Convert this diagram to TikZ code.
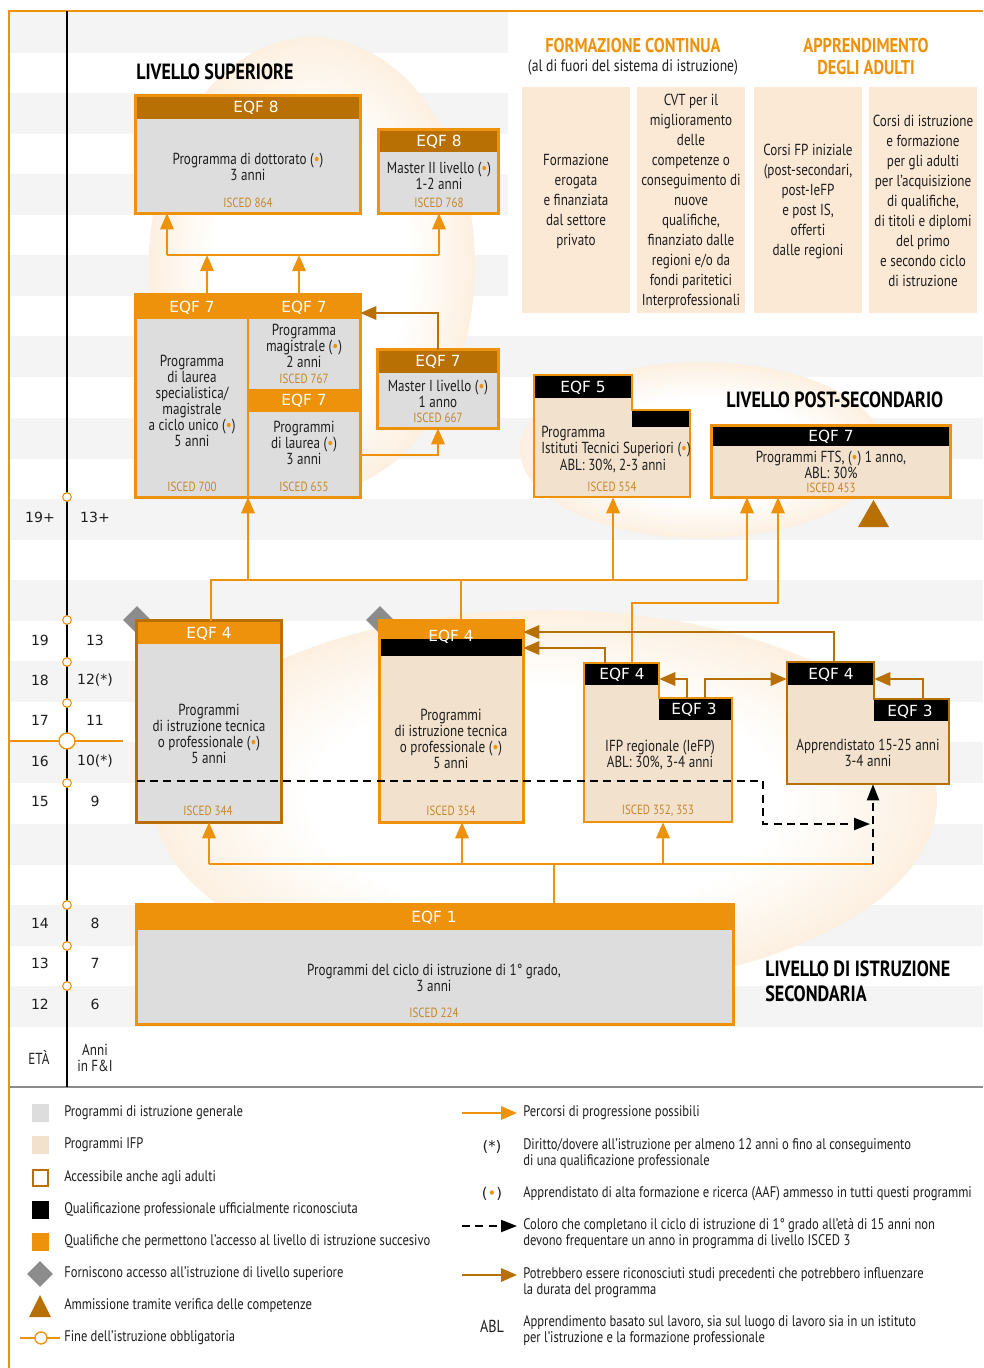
\documentclass[tikz,border=0pt]{standalone}
\usepackage{fontspec}
\setmainfont{PT Sans}[FakeStretch=0.82]
\newfontfamily\hfont{DejaVu Sans}
\usetikzlibrary{arrows.meta,fit,shapes.geometric}
\definecolor{orng}{RGB}{237,146,10}
\definecolor{brn}{RGB}{184,112,4}
\definecolor{gfill}{RGB}{221,221,221}
\definecolor{ifpc}{RGB}{242,225,204}
\definecolor{adult}{RGB}{252,233,213}
\definecolor{iscedc}{RGB}{196,134,44}
\definecolor{stripe}{RGB}{244,244,244}
\definecolor{txt}{RGB}{30,30,30}
\definecolor{dia}{RGB}{140,140,140}
\pgfdeclareradialshading{blob}{\pgfpoint{0bp}{0bp}}{rgb(0bp)=(1,1,1); rgb(15bp)=(1,1,1); rgb(25bp)=(0.99,0.94,0.88); rgb(32bp)=(0.96,0.83,0.66); rgb(35.5bp)=(0.94,0.75,0.53); rgb(50bp)=(0.94,0.75,0.53)}
\newcommand\obul{(\textcolor{orng}{\textbullet})}
\begin{document}
\begin{tikzpicture}[x=0.75pt,y=-0.75pt,
  oline/.style={draw=orng, line width=1.6pt},
  oarr/.style={draw=orng, line width=1.6pt, -{Triangle[length=12pt,width=10pt]}},
  barr/.style={draw=brn, line width=1.6pt, -{Triangle[length=12pt,width=10pt]}},
  darr/.style={draw=black, line width=1.6pt, dash pattern=on 6pt off 4pt, -{Triangle[length=12pt,width=9pt]}},
  hd/.style={font=\hfont\fontsize{11.5}{12}\selectfont, text=white, inner sep=0pt},
  bt/.style={font=\fontsize{12}{12}\selectfont, text=txt, align=center, inner sep=0pt},
  isc/.style={font=\fontsize{10}{10}\selectfont, text=iscedc, inner sep=0pt},
  age/.style={font=\hfont\fontsize{10.5}{11}\selectfont, text=txt, inner sep=0pt},
  ttl/.style={font=\bfseries\fontsize{16.5}{19}\selectfont, text=black, inner sep=0pt, anchor=west, align=left},
  otl/.style={font=\bfseries\fontsize{15}{16.5}\selectfont, text=orng, inner sep=0pt, align=center},
  adt/.style={font=\fontsize{12}{15}\selectfont, text=txt, align=center, inner sep=0pt},
  lg/.style={font=\fontsize{11.5}{12}\selectfont, text=txt, anchor=west, align=left, inner sep=0pt},
  bord/.style={line width=2pt},
  dmd/.style={diamond, fill=dia, inner sep=0pt, minimum size=21pt}
]
\useasboundingbox (0,0) rectangle (983,1368);
\fill[white] (0,0) rectangle (983,1368);
% stripes
\foreach \k in {0,...,3}{\fill[stripe] (10,{11.5+81.2*\k}) rectangle (508,{52.5+81.2*\k});}
\foreach \k in {4,...,12}{\fill[stripe] (10,{11.5+81.2*\k}) rectangle (983,{52.5+81.2*\k});}
% background blobs
\shade[shading=blob] (312,265) ellipse [x radius=163, y radius=228];
\shade[shading=blob] (702,450) ellipse [x radius=182, y radius=88];
\shade[shading=blob] (545,800) ellipse [x radius=392, y radius=190];
% frame
\draw[orng, line width=2pt] (983,11) -- (9,11) -- (9,1368);
\draw[black!45, line width=1.2pt] (10,1087) -- (983,1087);
\draw[orng, line width=1.5pt] (10,741) -- (123,741);
\draw[black, line width=0.8pt] (67,11) -- (67,1087);
\foreach \yy [count=\i] in {497,620,662,703,783,905,946,986}
  \node[circle, draw=orng, fill=white, line width=0.8pt, inner sep=0pt, minimum size=6.5pt] (cc\i) at (67,\yy) {};
\node[circle, draw=orng, fill=white, line width=1pt, inner sep=0pt, minimum size=12pt] (ccbig) at (67,741) {};
% ages
\node[age] (ag1) at (40,517) {19+}; \node[age] (yr1) at (95,517) {13+};
\node[age] (ag2) at (40,640) {19};  \node[age] (yr2) at (95,640) {13};
\node[age] (ag3) at (40,680) {18};  \node[age] (yr3) at (95,680) {12(*)};
\node[age] (ag4) at (40,720) {17};  \node[age] (yr4) at (95,720) {11};
\node[age] (ag5) at (40,761) {16};  \node[age] (yr5) at (95,761) {10(*)};
\node[age] (ag6) at (40,801) {15};  \node[age] (yr6) at (95,801) {9};
\node[age] (ag7) at (40,923) {14};  \node[age] (yr7) at (95,923) {8};
\node[age] (ag8) at (40,963) {13};  \node[age] (yr8) at (95,963) {7};
\node[age] (ag9) at (40,1004) {12}; \node[age] (yr9) at (95,1004) {6};
\node[bt] (agE) at (39,1058) {ETÀ};
\node[bt] (yrE) at (95,1058) {Anni\\in F\&I};
% headings
\node[ttl] (hSup) at (136,72) {LIVELLO SUPERIORE};
\node[ttl] (hPost) at (726,400) {LIVELLO POST-SECONDARIO};
\node[ttl] (hSec) at (765,981) {LIVELLO DI ISTRUZIONE\\SECONDARIA};
\node[otl] (hFC) at (633,45) {FORMAZIONE CONTINUA};
\node[bt, font=\fontsize{12.5}{14}\selectfont] (hFC2) at (633,67) {(al di fuori del sistema di istruzione)};
\node[otl] (hAA) at (866,56) {APPRENDIMENTO\\DEGLI ADULTI};
% adult education boxes
\node[fit={(522,87) (630,313)}, inner sep=0pt, fill=adult] (fA) {};
\node[fit={(637,87) (745,313)}, inner sep=0pt, fill=adult] (fB) {};
\node[fit={(754,87) (862,313)}, inner sep=0pt, fill=adult] (fC) {};
\node[fit={(869,87) (977,313)}, inner sep=0pt, fill=adult] (fD) {};
\node[adt] (tA) at (576,201) {Formazione\\erogata\\e finanziata\\dal settore\\privato};
\node[adt] (tB) at (691,201) {CVT per il\\miglioramento\\delle\\competenze o\\conseguimento di\\nuove\\qualifiche,\\finanziato dalle\\regioni e/o da\\fondi paritetici\\Interprofessionali};
\node[adt] (tC) at (808,201) {Corsi FP iniziale\\(post-secondari,\\post-IeFP\\e post IS,\\offerti\\dalle regioni};
\node[adt] (tD) at (923,201) {Corsi di istruzione\\e formazione\\per gli adulti\\per l'acquisizione\\di qualifiche,\\di titoli e diplomi\\del primo\\e secondo ciclo\\di istruzione};
% diamonds (behind boxes)
\node[dmd] (dmA) at (137,620) {};
\node[dmd] (dmB) at (380,620) {};
% EQF 8 dottorato
\node[fit={(136,96) (360,213)}, inner sep=0pt, fill=gfill] (doc) {};
\fill[brn] (136,96) rectangle (360,119);
\draw[orng, bord] (doc.north west) rectangle (doc.south east);
\node[hd] (docH) at (256,108) {EQF 8};
\node[bt] (docT) at (248,167) {Programma di dottorato \obul\\3 anni};
\node[isc] (docI) at (248,203) {ISCED 864};
% EQF 8 master II
\node[fit={(379,130) (498,213)}, inner sep=0pt, fill=gfill] (m2) {};
\fill[brn] (379,130) rectangle (498,152);
\draw[orng, bord] (m2.north west) rectangle (m2.south east);
\node[hd] (m2H) at (439,142) {EQF 8};
\node[bt] (m2T) at (439,176) {Master II livello \obul\\1-2 anni};
\node[isc] (m2I) at (439,203) {ISCED 768};
% EQF 7 block
\node[fit={(136,295) (360,497)}, inner sep=0pt, fill=gfill] (e7) {};
\fill[orng] (136,295) rectangle (360,319);
\fill[orng] (248,389) rectangle (360,412);
\draw[orng, line width=1.5pt] (248,319) -- (248,497);
\draw[orng, bord] (e7.north west) rectangle (e7.south east);
\node[hd] (e7H1) at (192,308) {EQF 7};
\node[hd] (e7H2) at (304,308) {EQF 7};
\node[hd] (e7H3) at (304,401) {EQF 7};
\node[bt] (e7T1) at (192,401) {Programma\\di laurea\\specialistica/\\magistrale\\a ciclo unico \obul\\5 anni};
\node[bt] (e7T2) at (304,346) {Programma\\magistrale \obul\\2 anni};
\node[bt] (e7T3) at (304,443) {Programmi\\di laurea \obul\\3 anni};
\node[isc] (e7I1) at (192,487) {ISCED 700};
\node[isc] (e7I2) at (304,379) {ISCED 767};
\node[isc] (e7I3) at (304,487) {ISCED 655};
% EQF 7 master I
\node[fit={(378,350) (498,428)}, inner sep=0pt, fill=gfill] (m1) {};
\fill[brn] (378,350) rectangle (498,373);
\draw[orng, bord] (m1.north west) rectangle (m1.south east);
\node[hd] (m1H) at (438,362) {EQF 7};
\node[bt] (m1T) at (438,394) {Master I livello \obul\\1 anno};
\node[isc] (m1I) at (438,418) {ISCED 667};
% EQF 5 ITS
\node[fit={(534,375) (690,497)}, inner sep=0pt] (its) {};
\fill[ifpc] (534,375) -- (632,375) -- (632,410) -- (690,410) -- (690,497) -- (534,497) -- cycle;
\node[fit={(534,375) (632,398)}, inner sep=0pt, fill=black] (itsH) {};
\node[fit={(632,410) (690,427)}, inner sep=0pt, fill=black] (itsB) {};
\draw[orng, bord] (534,375) -- (632,375) -- (632,410) -- (690,410) -- (690,497) -- (534,497) -- cycle;
\node[hd] (itsHt) at (583,388) {EQF 5};
\node[bt, anchor=west] (itsT1) at (541,434) {Programma};
\node[bt, anchor=west] (itsT2) at (541,450) {Istituti Tecnici Superiori \obul};
\node[bt] (itsT3) at (613,466) {ABL: 30\%, 2-3 anni};
\node[isc] (itsI) at (612,487) {ISCED 554};
% EQF 7 FTS
\node[fit={(712,426) (950,497)}, inner sep=0pt, fill=ifpc] (fts) {};
\fill[black] (712,426) rectangle (950,446);
\draw[orng, bord] (fts.north west) rectangle (fts.south east);
\node[hd] (ftsH) at (831,437) {EQF 7};
\node[bt] (ftsT) at (831,465) {Programmi FTS, \obul{} 1 anno,\\ABL: 30\%};
\node[isc] (ftsI) at (831,488) {ISCED 453};
\fill[brn] (858,527) -- (889,527) -- (873.5,500) -- cycle;
% EQF 4 ISCED 344
\node[fit={(137,621) (281,822)}, inner sep=0pt, fill=gfill] (e4a) {};
\fill[orng] (137,621) rectangle (281,644);
\draw[brn, bord] (e4a.north west) rectangle (e4a.south east);
\node[hd] (e4aH) at (209,634) {EQF 4};
\node[bt] (e4aT) at (209,734) {Programmi\\di istruzione tecnica\\o professionale \obul\\5 anni};
\node[isc] (e4aI) at (208,811) {ISCED 344};
% EQF 4 ISCED 354
\node[fit={(380,621) (523,822)}, inner sep=0pt, fill=ifpc] (e4b) {};
\fill[orng] (380,621) rectangle (523,640);
\fill[black] (380,639) rectangle (523,656);
\draw[orng, bord] (e4b.north west) rectangle (e4b.south east);
\node[hd] (e4bH) at (451,637) {EQF 4};
\node[bt] (e4bT) at (451,739) {Programmi\\di istruzione tecnica\\o professionale \obul\\5 anni};
\node[isc] (e4bI) at (451,811) {ISCED 354};
% IFP regionale
\node[fit={(584,663) (732,822)}, inner sep=0pt] (ifp) {};
\fill[ifpc] (584,663) -- (659,663) -- (659,698) -- (732,698) -- (732,822) -- (584,822) -- cycle;
\node[fit={(584,663) (659,685)}, inner sep=0pt, fill=black] (ifp4) {};
\node[fit={(659,698) (732,720)}, inner sep=0pt, fill=black] (ifp3) {};
\draw[orng, bord] (584,663) -- (659,663) -- (659,698) -- (732,698) -- (732,822) -- (584,822) -- cycle;
\node[hd] (ifp4t) at (622,675) {EQF 4};
\node[hd] (ifp3t) at (694,710) {EQF 3};
\node[bt] (ifpT) at (660,755) {IFP regionale (IeFP)\\ABL: 30\%, 3-4 anni};
\node[isc] (ifpI) at (658,811) {ISCED 352, 353};
% Apprendistato
\node[fit={(787,662) (949,784)}, inner sep=0pt] (appr) {};
\fill[ifpc] (787,662) -- (874,662) -- (874,699) -- (949,699) -- (949,784) -- (787,784) -- cycle;
\node[fit={(787,662) (874,685)}, inner sep=0pt, fill=black] (appr4) {};
\node[fit={(874,699) (949,721)}, inner sep=0pt, fill=black] (appr3) {};
\draw[brn, bord] (787,662) -- (874,662) -- (874,699) -- (949,699) -- (949,784) -- (787,784) -- cycle;
\node[hd] (appr4t) at (831,675) {EQF 4};
\node[hd] (appr3t) at (910,712) {EQF 3};
\node[bt] (apprT) at (868,753) {Apprendistato 15-25 anni\\3-4 anni};
% EQF 1
\node[fit={(137,905) (733,1024)}, inner sep=0pt, fill=gfill] (eqf1) {};
\fill[orng] (137,905) rectangle (733,930);
\draw[orng, bord] (eqf1.north west) rectangle (eqf1.south east);
\node[hd] (eqf1H) at (434,918) {EQF 1};
\node[bt] (eqf1T) at (434,978) {Programmi del ciclo di istruzione di 1° grado,\\3 anni};
\node[isc] (eqf1I) at (434,1013) {ISCED 224};
% ---- connectors: top
\coordinate (t8L) at (167,255); \coordinate (t8R) at (439,255);
\draw[oline] (t8L) -- (t8R);
\draw[oarr] (t8L) -- (doc.south -| t8L);
\draw[oarr] (t8R) -- (m2.south -| t8R);
\draw[oarr] (e7.north -| 207,0) -- (t8L -| 207,0);
\draw[oarr] (e7.north -| 299,0) -- (t8L -| 299,0);
\draw[oarr] (e7.east |- 0,455) -| (m1.south -| 438,0);
\draw[barr] (m1.north -| 438,0) |- (e7.east |- 0,313);
% ---- connectors: middle
\coordinate (h1L) at (211,580); \coordinate (h1R) at (747,580);
\coordinate (k1) at (632,603);
\draw[oline] (e4a.north -| h1L) -- (h1L) -- (h1R);
\draw[oline] (e4b.north -| 461,0) -- (h1L -| 461,0);
\draw[oarr] (h1L -| 248,0) -- (e7.south -| 248,0);
\draw[oarr] (h1L -| 613,0) -- (its.south -| 613,0);
\draw[oarr] (h1R) -- (fts.south -| h1R);
\draw[oarr] (ifp.north -| k1) -- (k1) -| (fts.south -| 778,0);
% brown arrows
\draw[barr] (appr.north -| 834,0) |- (e4b.east |- 0,632);
\draw[barr] (ifp.north -| 605,0) |- (e4b.east |- 0,648);
\draw[barr] (ifp3.north -| 687,0) |- (ifp4.east |- 0,679);
\draw[barr] (ifp3.north -| 705,0) |- (appr.west |- 0,679);
\draw[barr] (appr3.north -| 923,0) |- (appr4.east |- 0,679);
% ---- bottom
\coordinate (h2L) at (209,864); \coordinate (h2R) at (873,864);
\draw[oline] (h2L) -- (h2R);
\draw[oline] (eqf1.north -| 554,0) -- (h2L -| 554,0);
\draw[oarr] (h2L) -- (e4a.south -| h2L);
\draw[oarr] (h2L -| 462,0) -- (e4b.south -| 462,0);
\draw[oarr] (h2L -| 663,0) -- (ifp.south -| 663,0);
% dashed
\coordinate (dA) at (763,781); \coordinate (dB) at (763,824); \coordinate (dC) at (870,824);
\draw[darr] (e4a.west |- dA) -- (dA) -- (dB) -- (dC);
\draw[darr] (h2R) -- (appr.south -| h2R);
% ---- legend left
\node[fit={(32,1104) (49,1122)}, inner sep=0pt, fill=gfill] (lg1) {};
\node[fit={(32,1136) (49,1154)}, inner sep=0pt, fill=ifpc] (lg2) {};
\node[fit={(33,1170) (48,1186)}, inner sep=0pt, fill=white, draw=brn, line width=1.5pt] (lg3) {};
\node[fit={(32,1201) (49,1219)}, inner sep=0pt, fill=black] (lg4) {};
\node[fit={(32,1233) (49,1251)}, inner sep=0pt, fill=orng] (lg5) {};
\node[diamond, fill=dia, inner sep=0pt, minimum size=19.5pt] (lg6) at (40,1274) {};
\fill[brn] (29,1317) -- (51,1317) -- (40,1295) -- cycle;
\draw[orng, line width=1.2pt] (20,1338) -- (60,1338);
\node[circle, draw=orng, fill=white, line width=1pt, inner sep=0pt, minimum size=9pt] (lg8) at (41,1338) {};
\node[lg] (lt1) at (64,1113) {Programmi di istruzione generale};
\node[lg] (lt2) at (64,1145) {Programmi IFP};
\node[lg] (lt3) at (64,1178) {Accessibile anche agli adulti};
\node[lg] (lt4) at (64,1210) {Qualificazione professionale ufficialmente riconosciuta};
\node[lg] (lt5) at (64,1242) {Qualifiche che permettono l'accesso al livello di istruzione succesivo};
\node[lg] (lt6) at (64,1274) {Forniscono accesso all'istruzione di livello superiore};
\node[lg] (lt7) at (64,1306) {Ammissione tramite verifica delle competenze};
\node[lg] (lt8) at (64,1338) {Fine dell'istruzione obbligatoria};
% ---- legend right
\coordinate (la1) at (462,1113); \coordinate (lb1) at (517,1113);
\draw[oarr] (la1) -- (lb1);
\node[lg] (rt1) at (523,1113) {Percorsi di progressione possibili};
\node[age, font=\hfont\fontsize{11}{12}\selectfont] (rs2) at (492,1147) {(*)};
\node[lg] (rt2) at (523,1154) {Diritto/dovere all'istruzione per almeno 12 anni o fino al conseguimento\\di una qualificazione professionale};
\node[age, font=\hfont\fontsize{11}{12}\selectfont] (rs3) at (492,1194) {\obul};
\node[lg] (rt3) at (523,1194) {Apprendistato di alta formazione e ricerca (AAF) ammesso in tutti questi programmi};
\coordinate (la4) at (462,1226); \coordinate (lb4) at (517,1226);
\draw[darr] (la4) -- (lb4);
\node[lg] (rt4) at (523,1234) {Coloro che completano il ciclo di istruzione di 1° grado all'età di 15 anni non\\devono frequentare un anno in programma di livello ISCED 3};
\coordinate (la5) at (462,1275); \coordinate (lb5) at (517,1275);
\draw[barr] (la5) -- (lb5);
\node[lg] (rt5) at (523,1283) {Potrebbero essere riconosciuti studi precedenti che potrebbero influenzare\\la durata del programma};
\node[bt, font=\fontsize{13}{13}\selectfont] (rs6) at (492,1326) {ABL};
\node[lg] (rt6) at (523,1331) {Apprendimento basato sul lavoro, sia sul luogo di lavoro sia in un istituto\\per l'istruzione e la formazione professionale};
\end{tikzpicture}
\end{document}
